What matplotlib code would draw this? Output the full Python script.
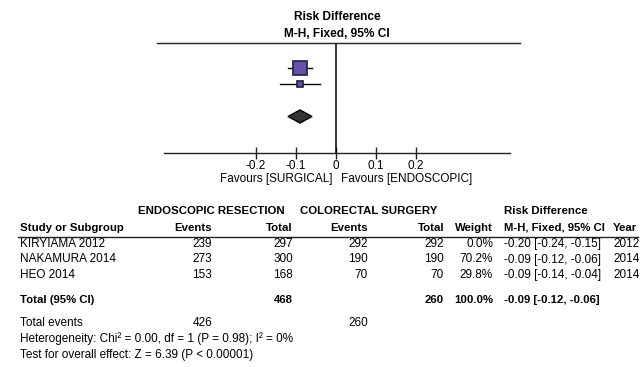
import matplotlib
matplotlib.use("Agg")
import matplotlib.pyplot as plt
from matplotlib.lines import Line2D
from matplotlib.patches import Polygon

plt.rcParams["font.family"] = ["Liberation Sans", "DejaVu Sans"]

W, H = 640, 367

# study data
studies = ["KIRYIAMA 2012", "NAKAMURA 2014", "HEO 2014"]
endo_events = [239, 273, 153]
endo_total = [297, 300, 168]
surg_events = [292, 190, 70]
surg_total = [292, 190, 70]
weights = [0.0, 70.2, 29.8]
rd = [-0.20, -0.09, -0.09]
rd_lo = [-0.24, -0.12, -0.14]
rd_hi = [-0.15, -0.06, -0.04]
years = [2012, 2014, 2014]

# pooled estimate
pooled_rd, pooled_lo, pooled_hi = -0.09, -0.12, -0.06
pooled_endo_total, pooled_surg_total = 468, 260
pooled_endo_events, pooled_surg_events = 426, 260
heterogeneity = "Heterogeneity: Chi\u00b2 = 0.00, df = 1 (P = 0.98); I\u00b2 = 0%"
overall = "Test for overall effect: Z = 6.39 (P < 0.00001)"

ticks = [-0.2, -0.1, 0, 0.1, 0.2]
tick_labels = ["-0.2", "-0.1", "0", "0.1", "0.2"]

FS = 8.5
FS_B = 8.2

fig = plt.figure(figsize=(W / 100, H / 100), dpi=100)
fig.patch.set_facecolor("white")


def fx(x):
    return x / W


def fy(y):
    return 1 - y / H


def put(x, y, s, ha="left", bold=False, size=None):
    fig.text(fx(x), fy(y), s, ha=ha, va="center",
             fontsize=size or (FS_B if bold else FS),
             fontweight="bold" if bold else "normal", color="black")


def hline(x0, x1, y, lw=1.0):
    fig.add_artist(Line2D([fx(x0), fx(x1)], [fy(y), fy(y)],
                          transform=fig.transFigure, color="#222222", lw=lw))


# ---- forest plot ----
ax_l, ax_r, ax_t, ax_b = 164, 510, 43, 153
ax = fig.add_axes([fx(ax_l), fy(ax_b), (ax_r - ax_l) / W, (ax_b - ax_t) / H])
ax.set_xlim(-0.43, 0.435)
row_y = [1, 2, 3]
total_y = 5.03
ax.set_ylim(7.3125, 0.4375)
for s in ["top", "left", "right"]:
    ax.spines[s].set_visible(False)
ax.spines["bottom"].set_color("#222222")
ax.spines["bottom"].set_linewidth(1.0)
ax.set_yticks([])
ax.set_xticks(ticks)
ax.set_xticklabels(tick_labels)
ax.tick_params(axis="x", direction="inout", length=8, width=1.0,
               color="#222222", labelsize=FS, pad=1)
ax.patch.set_alpha(0)
ax.axvline(0, color="black", lw=1.1)

for y, w, est, lo, hi in zip(row_y, weights, rd, rd_lo, rd_hi):
    if w <= 0:
        continue
    ax.plot([lo, hi], [y, y], color="black", lw=1.0, zorder=2)
    ax.plot(est, y, marker="s", ms=0.145 * w, mfc="#6552a8", mec="#231c48",
            mew=1.2, zorder=3)

dh = 0.41
ax.add_patch(Polygon([(pooled_lo, total_y), (pooled_rd, total_y - dh),
                      (pooled_hi, total_y), (pooled_rd, total_y + dh)],
                     closed=True, facecolor="#333333", edgecolor="black",
                     lw=1.0, zorder=3))

hline(157, 520, 43)
put(337, 17, "Risk Difference", ha="center", bold=True, size=8.6)
put(337, 34, "M-H, Fixed, 95% CI", ha="center", bold=True, size=8.6)
put(332, 179, "Favours [SURGICAL]", ha="right")
put(341, 179, "Favours [ENDOSCOPIC]", ha="left")

# ---- table ----
put(211, 211, "ENDOSCOPIC RESECTION", ha="center", bold=True)
put(369, 211, "COLORECTAL SURGERY", ha="center", bold=True)
put(546, 211, "Risk Difference", ha="center", bold=True)

hy = 228
put(20, hy, "Study or Subgroup", bold=True)
put(212, hy, "Events", ha="right", bold=True)
put(293, hy, "Total", ha="right", bold=True)
put(368, hy, "Events", ha="right", bold=True)
put(444, hy, "Total", ha="right", bold=True)
put(493, hy, "Weight", ha="right", bold=True)
put(504, hy, "M-H, Fixed, 95% CI", bold=True)
put(613, hy, "Year", bold=True)
hline(18, 638, 237)

for i, name in enumerate(studies):
    y = 244 + 15.5 * i
    put(20, y, name)
    put(212, y, f"{endo_events[i]}", ha="right")
    put(293, y, f"{endo_total[i]}", ha="right")
    put(368, y, f"{surg_events[i]}", ha="right")
    put(444, y, f"{surg_total[i]}", ha="right")
    put(493, y, f"{weights[i]:.1f}%", ha="right")
    put(504, y, f"{rd[i]:.2f} [{rd_lo[i]:.2f}, {rd_hi[i]:.2f}]")
    put(613, y, f"{years[i]}")

ty = 300
put(20, ty, "Total (95% CI)", bold=True)
put(293, ty, f"{pooled_endo_total}", ha="right", bold=True)
put(444, ty, f"{pooled_surg_total}", ha="right", bold=True)
put(493, ty, f"{sum(weights):.1f}%", ha="right", bold=True)
put(504, ty, f"{pooled_rd:.2f} [{pooled_lo:.2f}, {pooled_hi:.2f}]", bold=True)

put(20, 323, "Total events")
put(212, 323, f"{pooled_endo_events}", ha="right")
put(368, 323, f"{pooled_surg_events}", ha="right")
put(20, 339, heterogeneity)
put(20, 355, overall)

fig.savefig("out.png", dpi=100, facecolor="white")
